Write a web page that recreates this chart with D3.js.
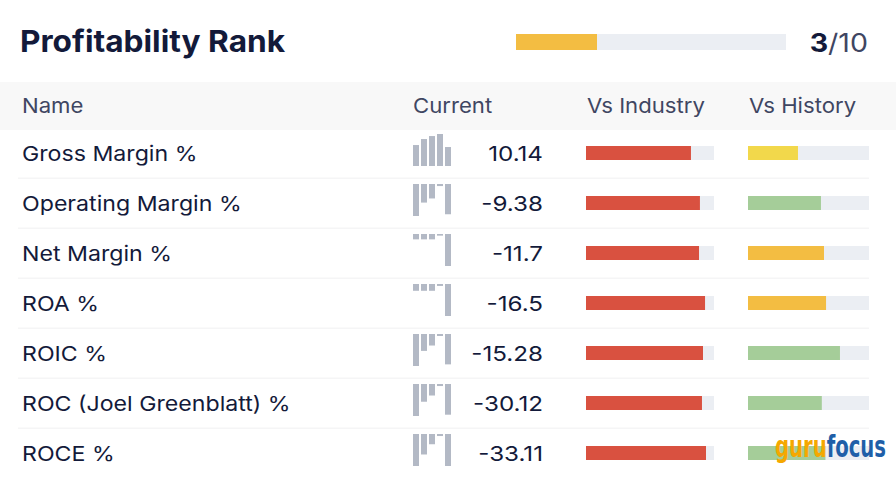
<!DOCTYPE html>
<html><head><meta charset="utf-8">
<script src="https://cdn.jsdelivr.net/npm/d3@7"></script>
<style>
html,body{margin:0;padding:0;background:#fff;}
svg{display:block;font-family:Inter, "Noto Sans", sans-serif;}
</style></head>
<body>
<svg id="chart" width="896" height="478"></svg>
<script>
const title = "Profitability Rank";
const rank = 3;
const rankMax = 10;
const headers = ["Name", "Current", "Vs Industry", "Vs History"];
const names = ["Gross Margin %", "Operating Margin %", "Net Margin %", "ROA %", "ROIC %", "ROC (Joel Greenblatt) %", "ROCE %"];
const currentLabels = ["10.14", "-9.38", "-11.7", "-16.5", "-15.28", "-30.12", "-33.11"];
const trends = [
  [11.2, 14.4, 16.0, 17.1, 10.14],
  [-9.92, -5.76, -4.48, -0.64, -9.38],
  [-1.96, -1.96, -1.96, -0.6, -11.7],
  [-3.5, -3.5, -3.5, -1.0, -16.5],
  [-16.1, -8.5, -5.8, -1.0, -15.28],
  [-31.4, -17.4, -11.3, -2.0, -30.12],
  [-33.1, -21.2, -10.6, -2.1, -33.11]
];
const industryPct = [0.82, 0.89, 0.883, 0.93, 0.914, 0.906, 0.9375];
const historyPct = [0.413, 0.603, 0.628, 0.645, 0.76, 0.61, 0.64];
const historyRating = ["neutral", "good", "fair", "fair", "good", "good", "good"];

const svg = d3.select("#chart");
const W = 896;

const dark = "#131a3a", muted = "#3f4662";
const rowY = d3.scaleLinear().domain([0, 1]).range([153, 203]);

function label(x, y, txt, size, sx, opts = {}) {
  return svg.append("text")
    .attr("transform", `translate(${x},${y}) scale(${sx},1)`)
    .attr("font-size", size)
    .attr("font-weight", opts.weight || 400)
    .attr("text-anchor", opts.anchor || "start")
    .attr("fill", opts.fill || dark)
    .text(txt);
}

// title
label(20, 52, title, 30, 1.055, {weight: 700});

// rank bar
const rankX = d3.scaleLinear().domain([0, rankMax]).range([516, 786]);
svg.append("rect").attr("x", rankX(0)).attr("y", 34).attr("width", rankX(rankMax) - rankX(0)).attr("height", 16).attr("fill", "#ebeef3");
svg.append("rect").attr("x", rankX(0)).attr("y", 34).attr("width", rankX(rank) - rankX(0)).attr("height", 16).attr("fill", "#f3bd42");
const rt = label(868, 52, "", 25.5, 1.12, {anchor: "end"});
rt.append("tspan").attr("font-weight", 700).attr("fill", dark).text(rank);
rt.append("tspan").attr("fill", muted).text("/" + rankMax);

// header band
svg.append("rect").attr("x", 0).attr("y", 82).attr("width", W).attr("height", 48).attr("fill", "#f8f8f8");
const headerX = [22, 413, 587, 749];
headers.forEach((h, i) => label(headerX[i], 113, h, 20.5, 1.08, {fill: muted}));

// separators
d3.range(names.length - 1).forEach(i => {
  svg.append("rect").attr("x", 18).attr("y", rowY(i) + 24.5).attr("width", 869 - 18).attr("height", 1.5).attr("fill", "#f5f5f6");
});

const indX = d3.scaleLinear().domain([0, 1]).range([586, 714]);
const hisX = d3.scaleLinear().domain([0, 1]).range([748, 869]);
const ratingColor = d3.scaleOrdinal().domain(["neutral", "fair", "good"]).range(["#f2d84b", "#f3bd42", "#a5cd99"]);
const sparkX = d3.scaleBand().domain(d3.range(5)).range([413, 451]).paddingInner(0.25).paddingOuter(0);

names.forEach((n, i) => {
  const cy = rowY(i);
  label(22, cy + 8, n, 20.5, 1.13);
  // sparkline
  const vals = trends[i];
  const lo = Math.min(0, d3.min(vals)), hi = Math.max(0, d3.max(vals));
  const sy = d3.scaleLinear().domain([lo, hi]).range([cy + 13, cy - 19]);
  svg.append("g").selectAll("rect").data(vals).join("rect")
    .attr("x", (d, j) => sparkX(j)).attr("width", sparkX.bandwidth())
    .attr("y", d => Math.min(sy(d), sy(0)))
    .attr("height", d => Math.abs(sy(d) - sy(0)))
    .attr("fill", "#b3b9c5");
  label(543, cy + 8, currentLabels[i], 20.5, 1.18, {anchor: "end"});
  // industry bar
  svg.append("rect").attr("x", indX(0)).attr("y", cy - 7).attr("width", indX(1) - indX(0)).attr("height", 14).attr("fill", "#ebeef3");
  svg.append("rect").attr("x", indX(0)).attr("y", cy - 7).attr("width", indX(industryPct[i]) - indX(0)).attr("height", 14).attr("fill", "#d95140");
  // history bar
  svg.append("rect").attr("x", hisX(0)).attr("y", cy - 7).attr("width", hisX(1) - hisX(0)).attr("height", 14).attr("fill", "#ebeef3");
  svg.append("rect").attr("x", hisX(0)).attr("y", cy - 7).attr("width", hisX(historyPct[i]) - hisX(0)).attr("height", 14).attr("fill", ratingColor(historyRating[i]));
});

// watermark logo
const logo = svg.append("text").attr("x", 775).attr("y", 457).attr("font-size", 31).attr("font-weight", 700)
  .attr("font-family", "'Liberation Sans Narrow', 'DejaVu Sans Condensed', sans-serif")
  .attr("textLength", 111).attr("lengthAdjust", "spacingAndGlyphs");
logo.append("tspan").attr("fill", "#f5a800").text("guru");
logo.append("tspan").attr("fill", "#1f5fa8").text("focus");
</script>
</body></html>
